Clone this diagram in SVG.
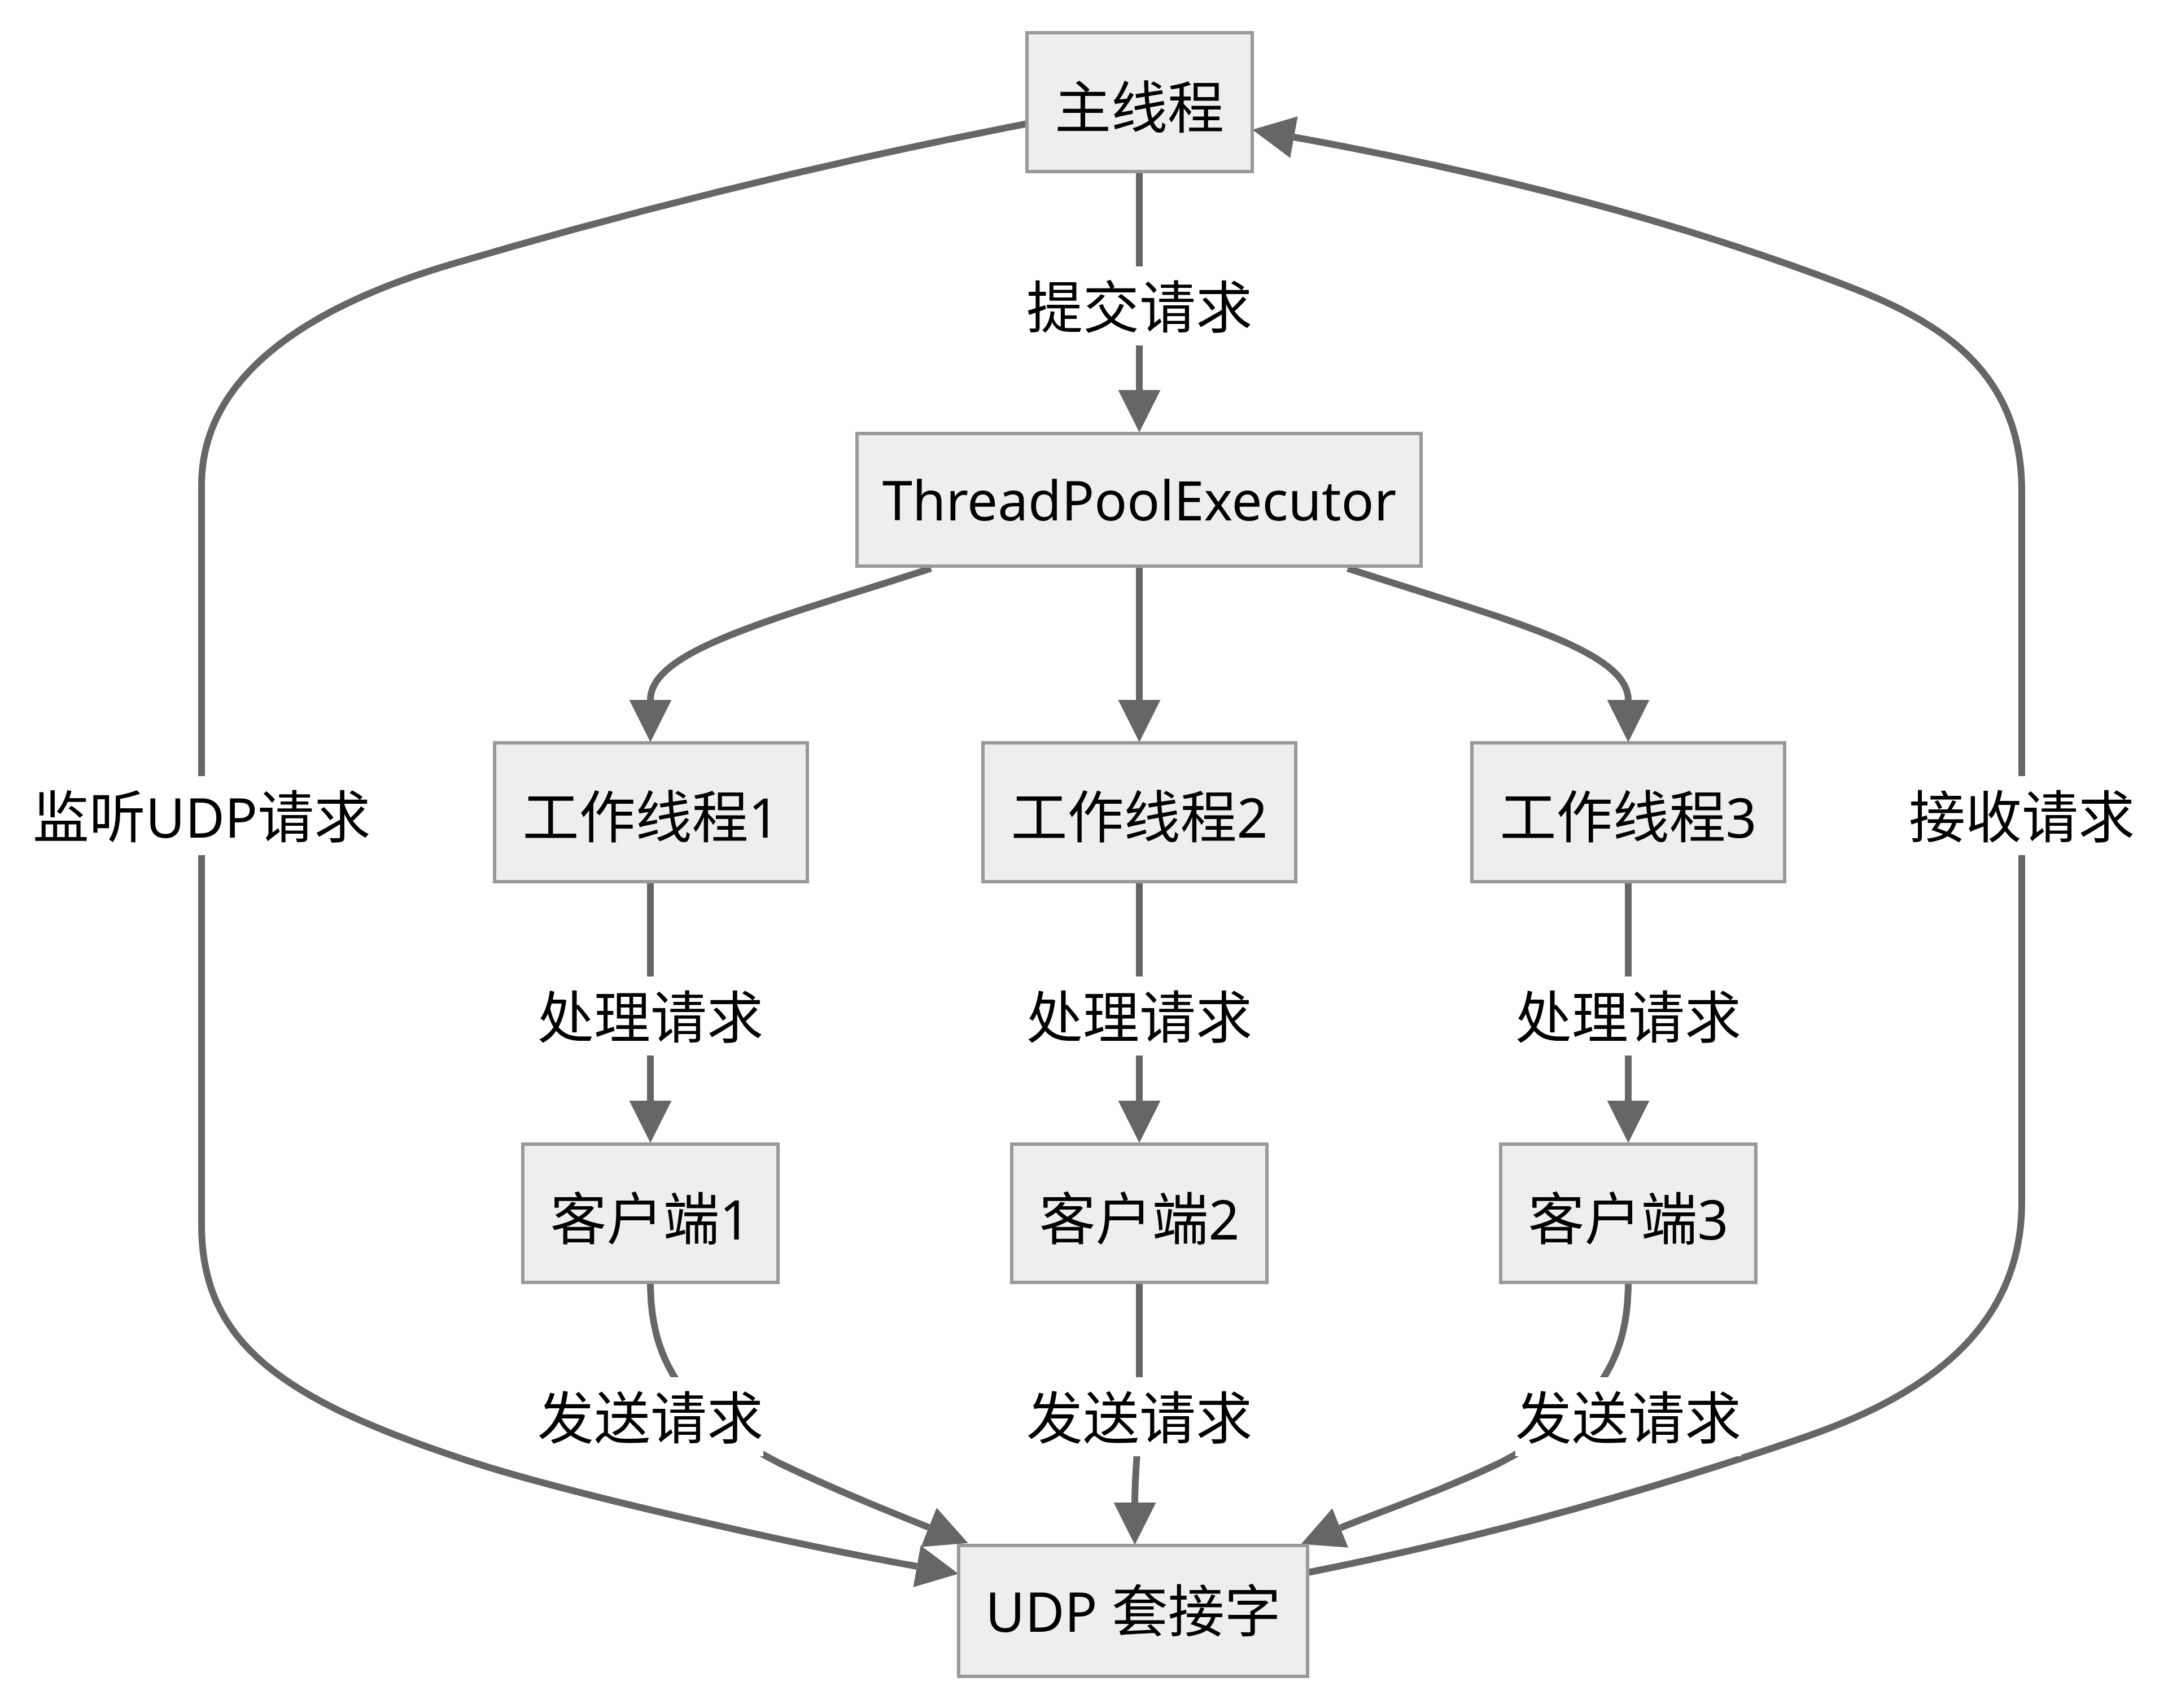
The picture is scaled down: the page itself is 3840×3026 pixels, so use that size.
<svg xmlns="http://www.w3.org/2000/svg" width="3840" height="3026" viewBox="0 0 3840 3026">
<style>
.node rect{fill:#eeeeee;stroke:#999999;stroke-width:6}
text{font-family:"Noto Sans","Noto Sans CJK SC",sans-serif;font-size:96px;fill:#000000;text-anchor:middle}
.c{font-family:"Noto Sans CJK SC","Noto Sans",sans-serif;font-size:100px}
.edge{fill:none;stroke:#666666;stroke-width:12}
.lbg{fill:#ffffff}
</style>
<defs>
<marker id="arrow" viewBox="0 0 10 10" refX="0" refY="5" markerUnits="userSpaceOnUse" markerWidth="75" markerHeight="75" orient="auto">
<path d="M0,0 L10,5 L0,10 z" fill="#666666"/>
</marker>
</defs>
<rect width="3840" height="3026" fill="#ffffff"/>
<g id="connectors">
<path class="edge" d="M2018,304 L2018,691" marker-end="url(#arrow)"/>
<path class="edge" d="M1649,1007 C1380,1095 1152,1150 1152,1240" marker-end="url(#arrow)"/>
<path class="edge" d="M2018,1003 L2018,1240" marker-end="url(#arrow)"/>
<path class="edge" d="M2387,1007 C2656,1095 2884,1150 2884,1240" marker-end="url(#arrow)"/>
<path class="edge" d="M1152,1562 L1152,1950" marker-end="url(#arrow)"/>
<path class="edge" d="M2018,1562 L2018,1950" marker-end="url(#arrow)"/>
<path class="edge" d="M2884,1562 L2884,1950" marker-end="url(#arrow)"/>
<path class="edge" d="M1152,2272 C1152,2400 1200,2500 1380,2592 C1480,2640 1580,2680 1645,2706" marker-end="url(#arrow)"/>
<path class="edge" d="M2018,2272 L2018,2440 C2018,2560 2010,2600 2010,2662" marker-end="url(#arrow)"/>
<path class="edge" d="M2884,2272 C2884,2400 2836,2500 2656,2592 C2556,2640 2440,2680 2374,2707" marker-end="url(#arrow)"/>
<path class="edge" d="M1820,219 Q1300,320 800,468 C600,527 357,640 357,860 L357,2170 C357,2380 500,2480 829,2588 C1010,2647 1400,2735 1624,2775" marker-end="url(#arrow)"/>
<path class="edge" d="M2316,2786 Q2750,2700 3200,2545 C3400,2476 3581,2360 3581,2130 L3581,870 C3581,620 3380,545 3203,481 Q2800,335 2292,243" marker-end="url(#arrow)"/>
</g>
<g id="edge-labels">
<g id="label-submit"><rect class="lbg" x="1818" y="472" width="400" height="140"/><text x="2018" y="581"><tspan class="c">提交请求</tspan></text></g>
<g id="label-process1"><rect class="lbg" x="952" y="1730" width="400" height="140"/><text x="1152" y="1839"><tspan class="c">处理请求</tspan></text></g>
<g id="label-process2"><rect class="lbg" x="1818" y="1730" width="400" height="140"/><text x="2018" y="1839"><tspan class="c">处理请求</tspan></text></g>
<g id="label-process3"><rect class="lbg" x="2684" y="1730" width="400" height="140"/><text x="2884" y="1839"><tspan class="c">处理请求</tspan></text></g>
<g id="label-send1"><rect class="lbg" x="952" y="2440" width="400" height="140"/><text x="1152" y="2549"><tspan class="c">发送请求</tspan></text></g>
<g id="label-send2"><rect class="lbg" x="1818" y="2440" width="400" height="140"/><text x="2018" y="2549"><tspan class="c">发送请求</tspan></text></g>
<g id="label-send3"><rect class="lbg" x="2684" y="2440" width="400" height="140"/><text x="2884" y="2549"><tspan class="c">发送请求</tspan></text></g>
<g id="label-listen"><rect class="lbg" x="57" y="1375" width="600" height="140"/><text x="357" y="1484"><tspan class="c">监听</tspan>UDP<tspan class="c">请求</tspan></text></g>
<g id="label-receive"><rect class="lbg" x="3381" y="1375" width="400" height="140"/><text x="3581" y="1484"><tspan class="c">接收请求</tspan></text></g>
</g>
<g id="main" class="node"><rect x="1819" y="58" width="399" height="246"/><text x="2018" y="227"><tspan class="c">主线程</tspan></text></g>
<g id="pool" class="node"><rect x="1518" y="768" width="999" height="235"/><text x="2018" y="922">ThreadPoolExecutor</text></g>
<g id="worker1" class="node"><rect x="876" y="1316" width="554" height="246"/><text x="1153" y="1484"><tspan class="c">工作线程</tspan>1</text></g>
<g id="worker2" class="node"><rect x="1741" y="1316" width="554" height="246"/><text x="2018" y="1484"><tspan class="c">工作线程</tspan>2</text></g>
<g id="worker3" class="node"><rect x="2607" y="1316" width="554" height="246"/><text x="2884" y="1484"><tspan class="c">工作线程</tspan>3</text></g>
<g id="client1" class="node"><rect x="926" y="2027" width="452" height="245"/><text x="1152" y="2196"><tspan class="c">客户端</tspan>1</text></g>
<g id="client2" class="node"><rect x="1792" y="2027" width="452" height="245"/><text x="2018" y="2196"><tspan class="c">客户端</tspan>2</text></g>
<g id="client3" class="node"><rect x="2658" y="2027" width="452" height="245"/><text x="2884" y="2196"><tspan class="c">客户端</tspan>3</text></g>
<g id="udp" class="node"><rect x="1698" y="2738" width="618" height="232"/><text x="2007" y="2891">UDP <tspan class="c">套接字</tspan></text></g>
</svg>
